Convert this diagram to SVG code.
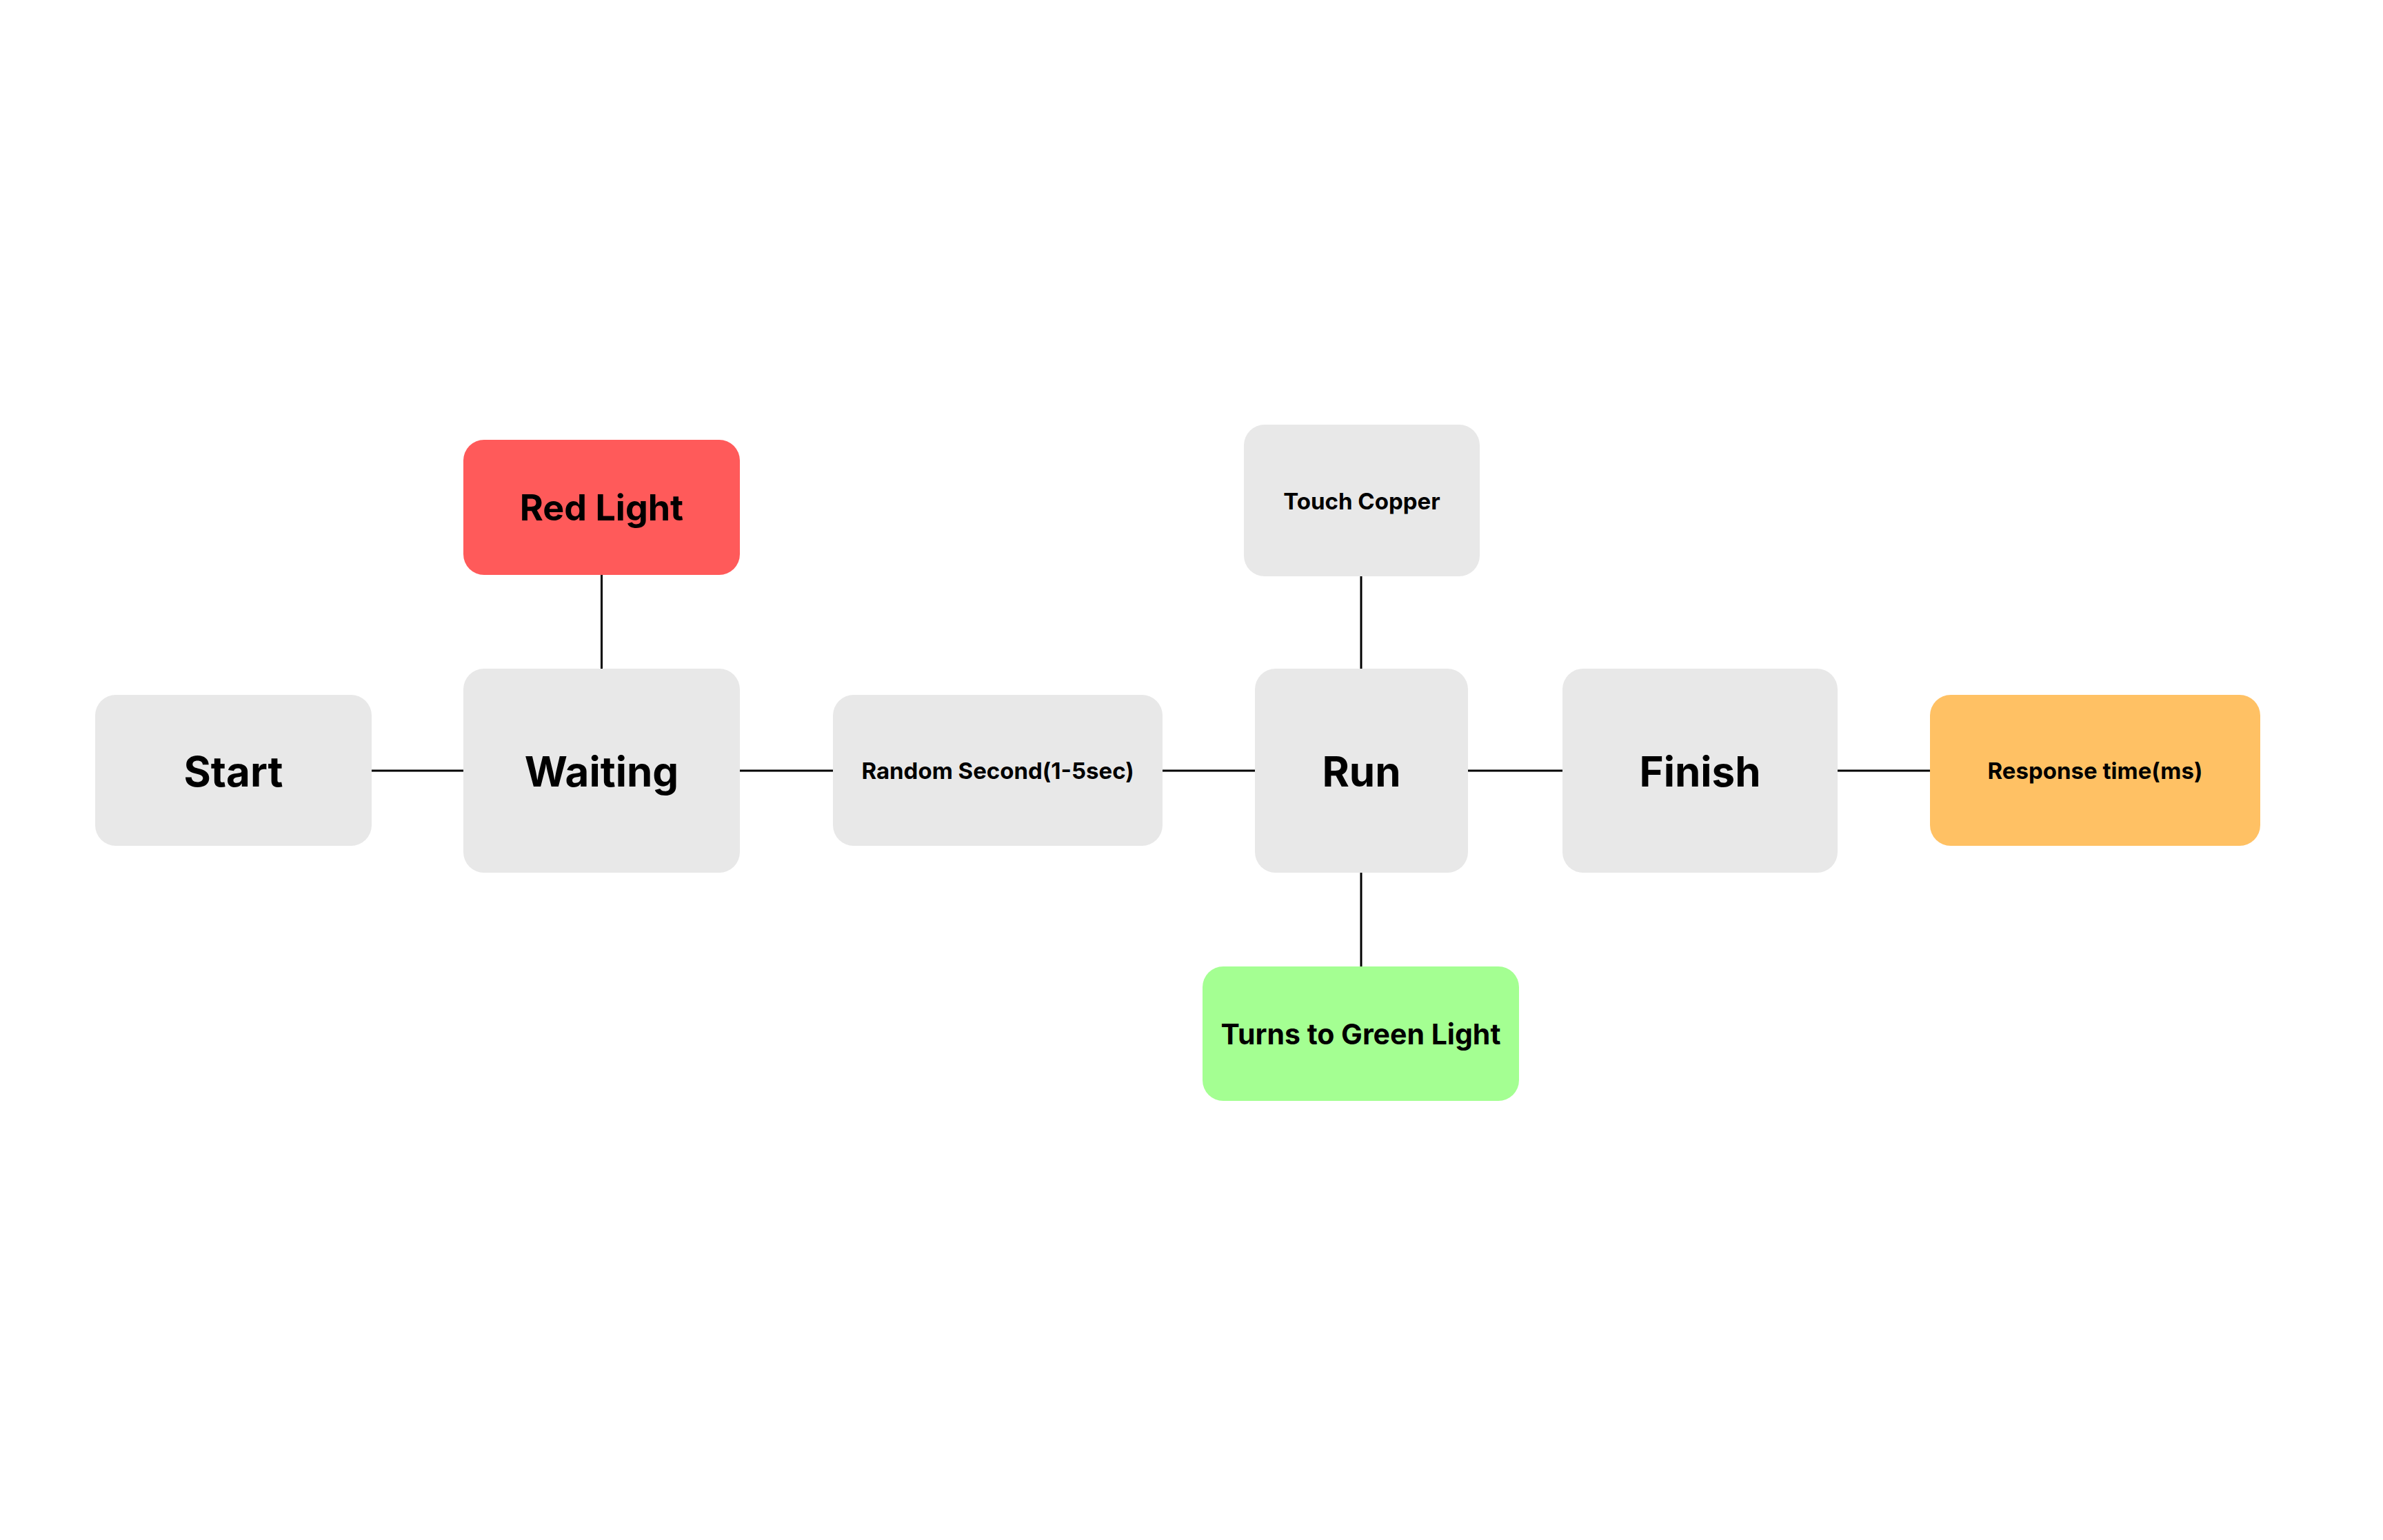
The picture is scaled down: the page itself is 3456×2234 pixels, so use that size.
<svg xmlns="http://www.w3.org/2000/svg" width="3456" height="2234" viewBox="0 0 3456 2234">
<style>
.box{fill:#E8E8E8}
.red{fill:#FF5A5A}
.green{fill:#A4FF92}
.orange{fill:#FFC164}
text{font-family:Inter,"Noto Sans","Liberation Sans",sans-serif;font-weight:700;fill:#000;text-anchor:middle}
.xl{font-size:60px}
.l{font-size:52px}
.m{font-size:41px}
.s{font-size:33px}
.conn line{stroke:#000;stroke-width:3}
</style>
<rect width="3456" height="2234" fill="#FFFFFF"/>
<g id="connectors" class="conn">
<line x1="539" y1="1118" x2="672" y2="1118"/>
<line x1="1073" y1="1118" x2="1208" y2="1118"/>
<line x1="1686" y1="1118" x2="1820" y2="1118"/>
<line x1="2129" y1="1118" x2="2266" y2="1118"/>
<line x1="2665" y1="1118" x2="2799" y2="1118"/>
<line x1="872.5" y1="834" x2="872.5" y2="970"/>
<line x1="1974" y1="836" x2="1974" y2="970"/>
<line x1="1974" y1="1266" x2="1974" y2="1402"/>
</g>
<g id="start"><rect class="box" x="138" y="1008" width="401" height="219" rx="30"/><text class="xl" x="338.5" y="1141">Start</text></g>
<g id="waiting"><rect class="box" x="672" y="970" width="401" height="296" rx="30"/><text class="xl" x="872.5" y="1141">Waiting</text></g>
<g id="red-light"><rect class="red" x="672" y="638" width="401" height="196" rx="30"/><text class="l" x="872.5" y="755">Red Light</text></g>
<g id="random-second"><rect class="box" x="1208" y="1008" width="478" height="219" rx="30"/><text class="s" x="1447" y="1130">Random Second(1-5sec)</text></g>
<g id="run"><rect class="box" x="1820" y="970" width="309" height="296" rx="30"/><text class="xl" x="1974.5" y="1141">Run</text></g>
<g id="touch-copper"><rect class="box" x="1804" y="616" width="342" height="220" rx="30"/><text class="s" x="1975" y="739">Touch Copper</text></g>
<g id="green-light"><rect class="green" x="1744" y="1402" width="459" height="195" rx="30"/><text class="m" x="1973.5" y="1515">Turns to Green Light</text></g>
<g id="finish"><rect class="box" x="2266" y="970" width="399" height="296" rx="30"/><text class="xl" x="2465.5" y="1141">Finish</text></g>
<g id="response-time"><rect class="orange" x="2799" y="1008" width="479" height="219" rx="30"/><text class="s" x="3038.5" y="1130">Response time(ms)</text></g>
</svg>
